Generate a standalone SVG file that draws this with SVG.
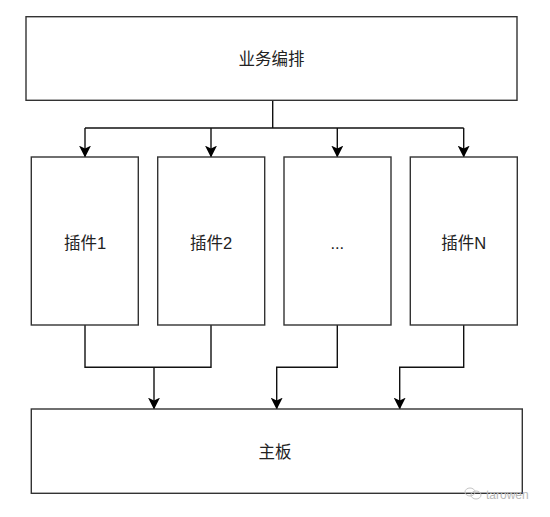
<svg xmlns="http://www.w3.org/2000/svg" width="550" height="517" viewBox="0 0 550 517">
  <style>
    .box { fill: #ffffff; stroke: #333333; stroke-width: 1.4; }
    .lbl { font-family: "Liberation Sans", "Noto Sans CJK SC", sans-serif; font-size: 16.5px; fill: #222222; text-anchor: middle; dominant-baseline: central; }
    .edge { fill: none; stroke: #111111; stroke-width: 1.4; }
    .wm { font-family: "Liberation Sans", sans-serif; font-size: 12px; fill: #b8b8b8; }
  </style>
  <defs>
    <marker id="arr" viewBox="0 0 10 10" refX="9.5" refY="5" markerWidth="12" markerHeight="12" markerUnits="userSpaceOnUse" orient="auto">
      <path d="M0,0 L10,5 L0,10 L2.5,5 Z" fill="#000000"/>
    </marker>
  </defs>
  <rect width="550" height="517" fill="#ffffff"/>

  <g id="edges">
    <path class="edge" d="M272.7,100.3 V128"/>
    <path class="edge" d="M85,128 H463.7"/>
    <path class="edge" d="M85,128 V157" marker-end="url(#arr)"/>
    <path class="edge" d="M211,128 V157" marker-end="url(#arr)"/>
    <path class="edge" d="M337.3,128 V157" marker-end="url(#arr)"/>
    <path class="edge" d="M463.7,128 V157" marker-end="url(#arr)"/>
    <path class="edge" d="M85,325 V367.3 H211 V325"/>
    <path class="edge" d="M154,367.3 V409" marker-end="url(#arr)"/>
    <path class="edge" d="M337.3,325 V367.3 H276.7 V409" marker-end="url(#arr)"/>
    <path class="edge" d="M463.7,325 V367.3 H399.7 V409" marker-end="url(#arr)"/>
  </g>

  <g id="orchestration">
    <rect class="box" x="26" y="16.7" width="491" height="83.6"/>
    <text class="lbl" x="271.5" y="59">业务编排</text>
  </g>
  <g id="plugin1">
    <rect class="box" x="31.3" y="157" width="107" height="168"/>
    <text class="lbl" x="85" y="243">插件1</text>
  </g>
  <g id="plugin2">
    <rect class="box" x="157.7" y="157" width="107" height="168"/>
    <text class="lbl" x="211" y="243">插件2</text>
  </g>
  <g id="pluginEllipsis">
    <rect class="box" x="284" y="157" width="107" height="168"/>
    <text class="lbl" x="337.3" y="243">...</text>
  </g>
  <g id="pluginN">
    <rect class="box" x="410.3" y="157" width="107" height="168"/>
    <text class="lbl" x="463.7" y="243">插件N</text>
  </g>
  <g id="mainboard">
    <rect class="box" x="31.3" y="409" width="491" height="84.3"/>
    <text class="lbl" x="275" y="452">主板</text>
  </g>

  <g id="watermark">
    <ellipse cx="470" cy="492" rx="5" ry="4" fill="none" stroke="#c4c4c4" stroke-width="1"/>
    <ellipse cx="476" cy="495" rx="5" ry="4" fill="none" stroke="#c4c4c4" stroke-width="1"/>
    <text class="wm" x="486" y="499">tarowen</text>
  </g>
</svg>
